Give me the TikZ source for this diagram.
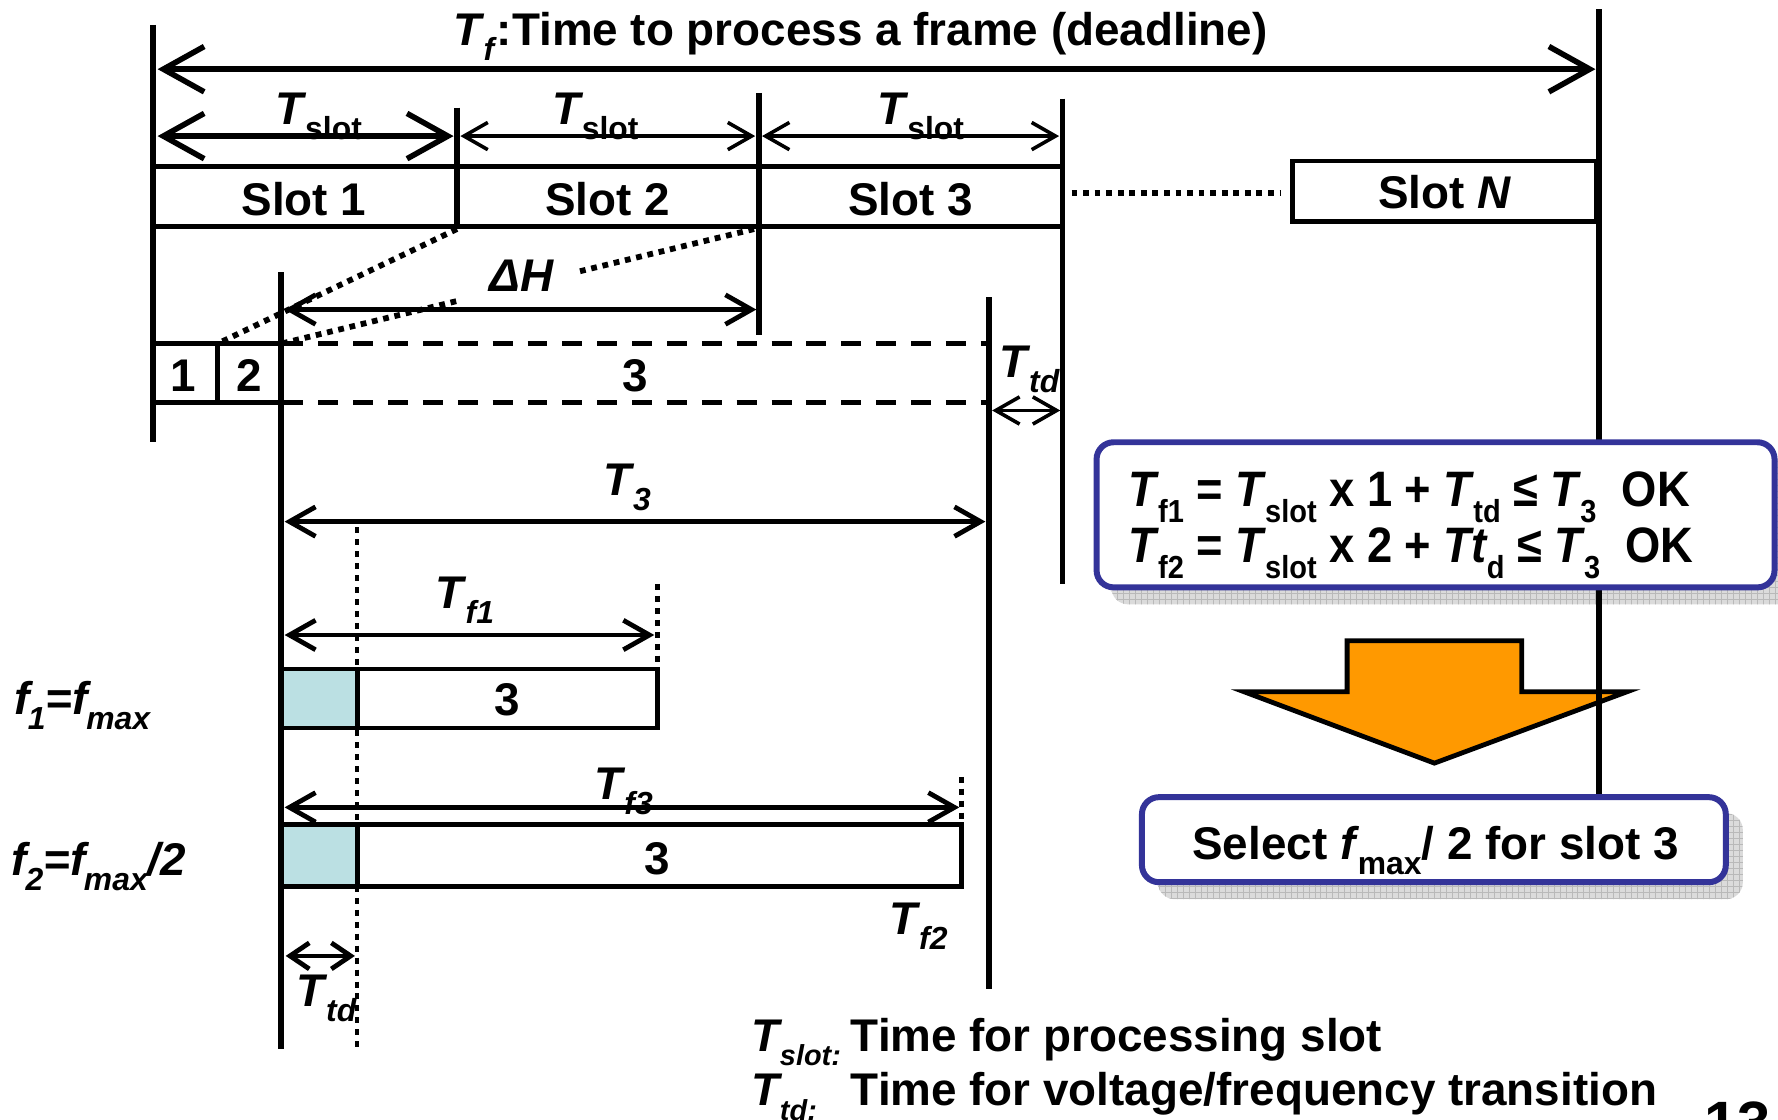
\documentclass[tikz,border=0pt]{standalone}
\usepackage{fontspec}
\setmainfont{Liberation Sans}
\usetikzlibrary{arrows.meta,patterns,calc}

\definecolor{boxblue}{HTML}{333399}
\definecolor{tdfill}{HTML}{BBE0E3}
\definecolor{arrorange}{HTML}{FF9900}

\newcommand{\sbs}[1]{\kern-0.03em\raisebox{-0.32em}{\fontsize{16}{16}\selectfont #1}}
\newcommand{\Tx}[1]{\textit{T}\sbs{#1}}
\newcommand{\keyT}[1]{\textit{T}\kern-0.05em\raisebox{-0.32em}{\fontsize{14.5}{15}\selectfont\textit{#1}}}

\begin{document}
\begin{tikzpicture}[x=0.02cm,y=-0.02cm,
  font=\fontsize{23}{28}\selectfont\bfseries,
  bar/.style={line width=3pt},
  edge/.style={line width=2.4pt},
  bigarr/.style={line width=2.8pt,
    {Straight Barb[length=0.72cm,width=0.8cm]}-{Straight Barb[length=0.72cm,width=0.8cm]}},
  midarr/.style={line width=2.4pt,
    {Straight Barb[length=0.46cm,width=0.52cm]}-{Straight Barb[length=0.46cm,width=0.52cm]}},
  thinarr/.style={line width=1.8pt,
    {Straight Barb[length=0.42cm,width=0.48cm]}-{Straight Barb[length=0.42cm,width=0.48cm]}},
  shortarr/.style={line width=2.4pt,
    {Straight Barb[length=0.34cm,width=0.46cm]}-{Straight Barb[length=0.34cm,width=0.46cm]}},
  sqdots/.style={line width=2.9pt,dash pattern=on 2.9pt off 2.9pt},
  finedots/.style={line width=2.2pt,dash pattern=on 3pt off 3pt},
  dashline/.style={line width=2.2pt,dash pattern=on 10pt off 7.5pt},
  lbl/.style={anchor=base,inner sep=0pt},
  callout/.style={draw=boxblue,line width=3pt,fill=white,rounded corners=0.3cm},
  shadowbox/.style={fill=gray!28,rounded corners=0.3cm,
    postaction={pattern=grid,pattern color=gray!55}}]
  \useasboundingbox (0,0) rectangle (1568,987);
  \clip (0,0) rectangle (1568,987);

  % check and decision on the right
  \path[shadowbox] (980,404) rectangle (1590,533);
  \path[shadowbox] (1021,717) rectangle (1537,793);
  \draw[edge,fill=arrorange,line join=miter]
    (1188,565) -- (1342,565) -- (1342,610) -- (1435,610)
    -- (1265,673) -- (1097,610) -- (1188,610) -- cycle;
  \draw[bar] (1410,8) -- (1410,703);
  \node[callout,minimum width=11.96cm,minimum height=2.56cm] (check) at (1266,454) {};
  \node[lbl,anchor=base west,font=\fontsize{25}{30}\selectfont\bfseries] (eq1) at (995,447)
    {\scalebox{0.91}[1]{\Tx{f1} = \Tx{slot} x 1 + \Tx{td} ≤ \Tx{3}\ \ OK}};
  \node[lbl,anchor=base west,font=\fontsize{25}{30}\selectfont\bfseries] (eq2) at (995,496)
    {\scalebox{0.91}[1]{\Tx{f2} = \Tx{slot} x 2 + \textit{Tt}\sbs{d} ≤ \Tx{3}\ \ OK}};
  \node[callout,minimum width=10.3cm,minimum height=1.5cm] (select) at (1264.5,740.5) {};
  \node[lbl] (seltext) at (1266,758) {Select \textit{f}\sbs{max}/ 2 for slot 3};

  % frame deadline
  \node[lbl] (title) at (759,40) {\Tx{\textit{f}}:Time to process a frame (deadline)};
  \draw[bar] (135,22) -- (135,390);
  \draw[bigarr] (139,61) -- (1407,61);

  % slots
  \draw[edge] (135,147) -- (937,147) (135,200) -- (937,200);
  \draw[bar] (403,95) -- (403,202) (669,82) -- (669,295) (937,87) -- (937,515);
  \draw[bigarr] (139,120) -- (400,120);
  \draw[thinarr] (406,120) -- (666,120);
  \draw[thinarr] (672,120) -- (934,120);
  \node[lbl] (ts1) at (281,110) {\Tx{slot}};
  \node[lbl] (ts2) at (525,110) {\Tx{slot}};
  \node[lbl] (ts3) at (812,110) {\Tx{slot}};
  \foreach \x/\n in {268/1,536/2,803/3}
    \node[lbl] (slot\n) at (\x,190) {Slot \n};
  \draw[sqdots] (945,170) -- (1130,170);
  \draw[edge] (1140,142) rectangle (1408,195);
  \node[lbl] (slotN) at (1274,184) {Slot \textit{N}};

  % slot 3 after the transition
  \draw[bar] (248,240) -- (248,925) (872,262) -- (872,872);
  \draw[edge] (135,303) -- (248,303) (135,355) -- (248,355) (192,303) -- (192,355);
  \draw[dashline] (250,303) -- (872,303) (250,355) -- (872,355);
  \node[lbl] (n1) at (162,345) {1};
  \node[lbl] (n2) at (220,345) {2};
  \node[lbl] (n3) at (560,345) {3};
  \draw[sqdots] (403,202) -- (192,303);
  \draw[sqdots] (665,202) -- ($(665,202)!0.37!(248,303)$);
  \draw[sqdots] ($(665,202)!0.63!(248,303)$) -- (248,303);
  \draw[midarr] (251,273) -- (667,273);
  \node[lbl] (dH) at (460,257) {\textit{ΔH}};
  \node[lbl] (ttd1) at (908,333) {\Tx{\textit{td}}};
  \draw[thinarr] (875,362) -- (935,362);

  % budget T3 and the two speeds
  \node[lbl] (t3) at (553,437) {\Tx{\textit{3}}};
  \draw[midarr] (251,460) -- (869,460);
  \draw[finedots] (315,465) -- (315,925);
  \node[lbl] (tf1) at (410,537) {\Tx{\textit{f1}}};
  \draw[midarr] (251,560) -- (577,560);
  \draw[finedots] (580,515) -- (580,590);
  \fill[tdfill] (248,590) rectangle (315,642);
  \draw[edge] (248,590) rectangle (580,642) (315,590) -- (315,642);
  \node[lbl] (b1) at (447,631) {3};
  \node[lbl,anchor=base west] (f1) at (12,630) {\textit{f\sbs{1}=f\sbs{max}}};
  \node[lbl] (tf3) at (550,705) {\Tx{\textit{f3}}};
  \draw[midarr] (251,712) -- (846,712);
  \draw[finedots] (848,685) -- (848,727);
  \fill[tdfill] (248,727) rectangle (315,782);
  \draw[edge] (248,727) rectangle (848,782) (315,727) -- (315,782);
  \node[lbl] (b2) at (580,771) {3};
  \node[lbl,anchor=base west] (f2) at (10,772) {\textit{f\sbs{2}=f\sbs{max}/2}};
  \node[lbl] (tf2) at (810,824) {\Tx{\textit{f2}}};
  \draw[shortarr] (252,843) -- (313,843);
  \node[lbl] (ttd2) at (288,888) {\Tx{\textit{td}}};

  % legend
  \node[lbl,anchor=base west] (k1) at (662,927) {\keyT{slot:}};
  \node[lbl,anchor=base west] (d1) at (750,927) {Time for processing slot};
  \node[lbl,anchor=base west] (k2) at (662,975) {\keyT{td:}};
  \node[lbl,anchor=base west] (d2) at (750,975) {Time for voltage/frequency transition};
  \node[lbl,anchor=base west,font=\fontsize{30}{30}\selectfont\bfseries] (page) at (1503,1008) {13};
\end{tikzpicture}
\end{document}
